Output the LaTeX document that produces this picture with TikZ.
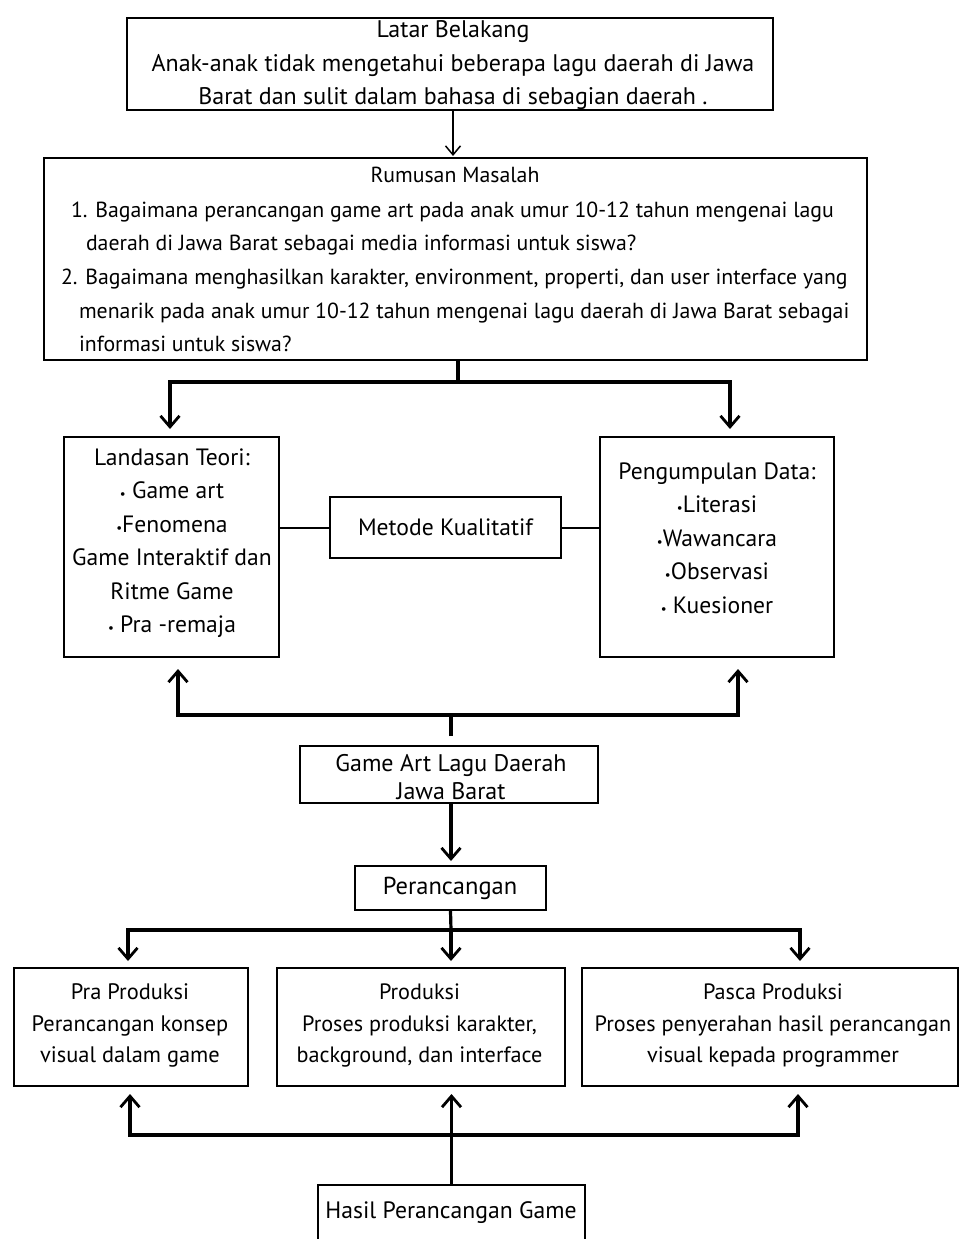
\documentclass[tikz,border=0pt]{standalone}
\usepackage{fontspec}
\setmainfont{PT Sans}
\usetikzlibrary{arrows.meta}

\newcommand{\bul}{{\fontsize{13}{13}\selectfont\textbullet}}

\tikzset{every picture/.style={line width=2pt}}
\tikzset{
  box/.style={draw, line width=2pt, inner sep=0pt},
  boxtext/.style={inner sep=0pt, align=center, font=\fontsize{#1}{33.5}\selectfont},
  boxtext/.default=21,
  textline/.style={inner sep=0pt, anchor=base west, font=\fontsize{21.8}{33.5}\selectfont},
  link/.style={line width=3.2pt},
  tip/.style={-{Straight Barb[length=11pt,width=19pt,line width=2.8pt]}},
  thintip/.style={line width=1.5pt, -{Straight Barb[length=9pt,width=15pt,line width=1.5pt]}},
}

\begin{document}
\begin{tikzpicture}[x=1pt,y=1pt,yscale=-1,xscale=1]
    \useasboundingbox (0,0) rectangle (961,1239);

    %Shape: Rectangle [Latar Belakang]
    \node[box, minimum width=646pt, minimum height=92pt] (latar) at (450,64) {};
    %Shape: Rectangle [Rumusan Masalah]
    \node[box, minimum width=823pt, minimum height=202pt] (rumusan) at (455.5,259) {};
    %Shape: Rectangle [Landasan Teori]
    \node[box, minimum width=215pt, minimum height=220pt] (landasan) at (171.5,547) {};
    %Shape: Rectangle [Metode]
    \node[box, minimum width=231pt, minimum height=61pt] (metode) at (445.5,527.5) {};
    %Shape: Rectangle [Pengumpulan Data]
    \node[box, minimum width=234pt, minimum height=220pt] (pengumpulan) at (717,547) {};
    %Shape: Rectangle [Game Art]
    \node[box, minimum width=298pt, minimum height=57pt] (gameart) at (449,774.5) {};
    %Shape: Rectangle [Perancangan]
    \node[box, minimum width=191pt, minimum height=44pt] (perancangan) at (450.5,888) {};
    %Shape: Rectangle [Pra Produksi]
    \node[box, minimum width=234pt, minimum height=118pt] (pra) at (131,1027) {};
    %Shape: Rectangle [Produksi]
    \node[box, minimum width=288pt, minimum height=118pt] (produksi) at (421,1027) {};
    %Shape: Rectangle [Pasca Produksi]
    \node[box, minimum width=376pt, minimum height=118pt] (pasca) at (770,1027) {};
    %Shape: Rectangle [Hasil]
    \node[box, minimum width=267pt, minimum height=62pt] (hasil) at (451.5,1216) {};

    % Coordinates for the split and join points
    \coordinate (splitA) at (458,382);
    \coordinate (joinB) at (451,715);
    \coordinate (splitC) at (451,930);
    \coordinate (joinD) at (451,1135);

    %Straight Lines
    \draw[thintip, shorten >=1pt] ([xshift=3pt]latar.south) -- ([xshift=3pt]latar.south |- rumusan.north);
    %Straight Lines
    \draw[link] ([xshift=2.5pt]rumusan.south) -- (splitA);
    \draw[link, tip, shorten >=7pt] (splitA) -| ([xshift=-1.5pt]landasan.north);
    \draw[link, tip, shorten >=7pt] (splitA) -| ([xshift=13pt]pengumpulan.north);
    %Straight Lines
    \draw (metode.west -| landasan.east) -- (metode.west);
    \draw (metode.east) -- (metode.east -| pengumpulan.west);
    %Straight Lines
    \draw[link, shorten <=9pt] ([xshift=2pt]gameart.north) -- (joinB);
    \draw[link, tip, shorten >=11pt] (joinB) -| ([xshift=6.5pt]landasan.south);
    \draw[link, tip, shorten >=11pt] (joinB) -| ([xshift=21pt]pengumpulan.south);
    %Straight Lines
    \draw[link, tip, shorten >=4pt] ([xshift=2pt]gameart.south) -- ([xshift=2pt]gameart.south |- perancangan.north);
    %Straight Lines
    \draw[link] (perancangan.south) -- (splitC);
    \draw[link, tip, shorten >=6pt] (splitC) -| ([xshift=-3pt]pra.north);
    \draw[link, tip, shorten >=6pt] (splitC) -- (splitC |- produksi.north);
    \draw[link, tip, shorten >=6pt] (splitC) -| ([xshift=30pt]pasca.north);
    %Straight Lines
    \draw[link, tip, shorten >=7pt] (hasil.north) -- (hasil.north |- produksi.south);
    \draw[link, tip, shorten >=7pt] (joinD) -| ([xshift=-1pt]pra.south);
    \draw[link, tip, shorten >=7pt] (joinD) -| ([xshift=28pt]pasca.south);

    % Text Node
    \node[boxtext=24] (latarText) at (453,65.5) {Latar Belakang\\Anak-anak tidak mengetahui beberapa lagu daerah di Jawa\\Barat dan sulit dalam bahasa di sebagian daerah .};
    % Text Node
    \node[boxtext=21.8] (rumusanTitle) at (455,175) {Rumusan Masalah};
    % Text Node
    \node[textline] (rumusanA) at (70,217) {1. Bagaimana perancangan game art pada anak umur 10-12 tahun mengenai lagu};
    % Text Node
    \node[textline] (rumusanB) at (85,250) {daerah di Jawa Barat sebagai media informasi untuk siswa?};
    % Text Node
    \node[textline] (rumusanC) at (60,284) {2. Bagaimana menghasilkan karakter, environment, properti, dan user interface yang};
    % Text Node
    \node[textline] (rumusanD) at (78,318) {menarik pada anak umur 10-12 tahun mengenai lagu daerah di Jawa Barat sebagai};
    % Text Node
    \node[textline] (rumusanE) at (78,351) {informasi untuk siswa?};
    % Text Node
    \node[boxtext=23.6] (landasanText) at (172,543) {Landasan Teori:\\\bul{} Game art\\\bul Fenomena\\Game Interaktif dan\\Ritme Game\\\bul{} Pra -remaja};
    % Text Node
    \node[boxtext=23.6] (metodeText) at (445.5,527) {Metode Kualitatif};
    % Text Node
    \node[boxtext=23.6] (pengumpulanText) at (717,538) {Pengumpulan Data:\\\bul Literasi\\\bul Wawancara\\\bul Observasi\\\bul{} Kuesioner};
    % Text Node
    \node[boxtext=24] (gameartText) at (451,777) {Game Art Lagu Daerah\\[-5.5pt]Jawa Barat};
    % Text Node
    \node[boxtext=24.5] (perancanganText) at (450,888) {Perancangan};
    % Text Node
    \node[boxtext=22.4] (praText) at (130,1025.5) {Pra Produksi\\[-2pt]Perancangan konsep\\[-2pt]visual dalam game};
    % Text Node
    \node[boxtext=22.2] (produksiText) at (419.5,1025.5) {Produksi\\[-2pt]Proses produksi karakter,\\[-2pt]background, dan interface};
    % Text Node
    \node[boxtext=22.2] (pascaText) at (773,1025.5) {Pasca Produksi\\[-2pt]Proses penyerahan hasil perancangan\\[-2pt]visual kepada programmer};
    % Text Node
    \node[boxtext=23.7] (hasilText) at (451,1213) {Hasil Perancangan Game};

\end{tikzpicture}
\end{document}
